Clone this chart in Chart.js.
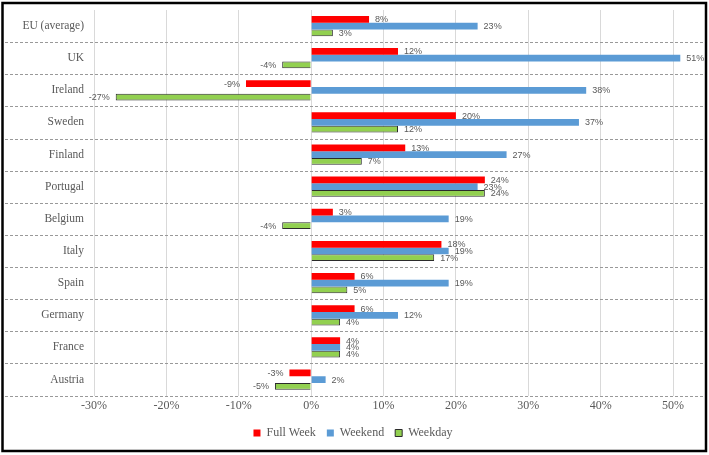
<!DOCTYPE html>
<html lang="en">
<head>
    <meta charset="UTF-8">
    <title>Full Week / Weekend / Weekday</title>
    <script src="https://cdn.jsdelivr.net/npm/chart.js@4"></script>
    <style>
        body { margin: 0; background: #fff; }
        canvas { display: block; }
    </style>
</head>
<body>
    <canvas id="chart" width="709" height="455"></canvas>
    <script>
        const categories = ['EU (average)', 'UK', 'Ireland', 'Sweden', 'Finland', 'Portugal',
            'Belgium', 'Italy', 'Spain', 'Germany', 'France', 'Austria'];
        const fullWeek = [8, 12, -9, 20, 13, 24, 3, 18, 6, 6, 4, -3];
        const weekend = [23, 51, 38, 37, 27, 23, 19, 19, 19, 12, 4, 2];
        const weekday = [3, -4, -27, 12, 7, 24, -4, 17, 5, 4, 4, -5];
        const xTicks = [-30, -20, -10, 0, 10, 20, 30, 40, 50];

        const textGrey = '#595959';
        const serif = '"Liberation Serif", "Times New Roman", serif';

        // frame round the whole picture + dashed row separators
        const decor = {
            id: 'decor',
            beforeDatasetsDraw(chart) {
                const ctx = chart.ctx;
                const ys = chart.scales.y;
                const half = (ys.getPixelForValue(1) - ys.getPixelForValue(0)) / 2;
                ctx.save();
                ctx.strokeStyle = '#999999';
                ctx.lineWidth = 1;
                ctx.setLineDash([3, 2]);
                for (let i = 0; i < categories.length; i++) {
                    const y = Math.round(ys.getPixelForValue(i) + half) + 0.5;
                    ctx.beginPath();
                    ctx.moveTo(5, y);
                    ctx.lineTo(chart.width - 4, y);
                    ctx.stroke();
                }
                ctx.restore();
            },
            afterDraw(chart) {
                const ctx = chart.ctx;
                ctx.save();
                ctx.strokeStyle = '#000';
                ctx.lineWidth = 2.5;
                ctx.strokeRect(2.5, 3, chart.width - 5.5, chart.height - 7);
                ctx.restore();
            }
        };

        // value labels next to the bar ends
        const valueLabels = {
            id: 'valueLabels',
            afterDatasetsDraw(chart) {
                const ctx = chart.ctx;
                ctx.save();
                ctx.font = '9px "Liberation Sans", Arial, sans-serif';
                ctx.fillStyle = textGrey;
                ctx.textBaseline = 'middle';
                chart.data.datasets.forEach((ds, di) => {
                    chart.getDatasetMeta(di).data.forEach((bar, i) => {
                        const v = ds.data[i];
                        if (v >= 0) {
                            ctx.textAlign = 'left';
                            ctx.fillText(v + '%', bar.x + 6, bar.y + 0.5);
                        } else {
                            ctx.textAlign = 'right';
                            ctx.fillText(v + '%', bar.x - 6, bar.y + 0.5);
                        }
                    });
                });
                ctx.restore();
            }
        };

        new Chart(document.getElementById('chart'), {
            type: 'bar',
            data: {
                labels: categories,
                datasets: [
                    { label: 'Full Week', data: fullWeek, backgroundColor: '#ff0000', borderWidth: 0 },
                    { label: 'Weekend', data: weekend, backgroundColor: '#5b9bd5', borderWidth: 0 },
                    { label: 'Weekday', data: weekday, backgroundColor: '#92d050', borderColor: '#2b2b2b', borderWidth: 1 }
                ]
            },
            options: {
                indexAxis: 'y',
                responsive: false,
                animation: false,
                categoryPercentage: 0.63,
                barPercentage: 1,
                layout: { padding: { top: 10, left: 4, right: 7, bottom: 6 } },
                scales: {
                    x: {
                        min: -30,
                        max: 54,
                        afterBuildTicks: (scale) => { scale.ticks = xTicks.map(v => ({ value: v })); },
                        grid: { color: '#d9d9d9', drawTicks: false },
                        border: { display: false },
                        ticks: {
                            padding: 3,
                            color: textGrey,
                            font: { family: serif, size: 12 },
                            callback: v => v + '%'
                        }
                    },
                    y: {
                        afterFit: (scale) => {
                            scale.width = 90;
                            scale.paddingTop = 0;
                            scale.paddingBottom = 0;
                        },
                        grid: { display: false, drawTicks: false },
                        border: { display: false },
                        ticks: {
                            padding: 10,
                            color: textGrey,
                            font: { family: serif, size: 11.5 }
                        }
                    }
                },
                plugins: {
                    legend: {
                        position: 'bottom',
                        labels: {
                            boxWidth: 7,
                            boxHeight: 7,
                            padding: 11,
                            color: textGrey,
                            font: { family: serif, size: 12 }
                        }
                    },
                    tooltip: { enabled: false }
                }
            },
            plugins: [decor, valueLabels]
        });
    </script>
</body>
</html>
